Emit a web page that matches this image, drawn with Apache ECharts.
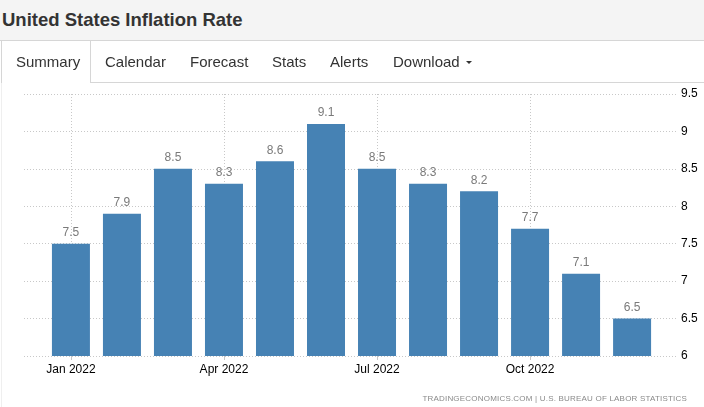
<!DOCTYPE html>
<html>
<head>
<meta charset="utf-8">
<script src="https://cdn.jsdelivr.net/npm/echarts@6/dist/echarts.min.js"></script>
<style>
  html, body { margin: 0; padding: 0; background: #fff; }
  body { width: 704px; height: 407px; position: relative; overflow: hidden; font-family: "Liberation Sans", Arial, sans-serif; }
  #chart { position: absolute; left: 0; top: 0; width: 704px; height: 407px; z-index: 0; }
  .abs { position: absolute; z-index: 2; }
  #header { left: 0; top: 0; width: 704px; height: 40px; background: #f4f4f4; border-bottom: 1px solid #d6d6d6; }
  #title { left: 2px; top: 9px; font-weight: bold; font-size: 18.5px; line-height: 22px; color: #333; white-space: nowrap; }
  .tab { top: 52px; font-size: 15px; line-height: 20px; color: #333; white-space: nowrap; }
  #tabline { left: 90px; top: 82px; width: 614px; height: 1px; background: #d6d6d6; }
  #tabright { left: 90px; top: 41px; width: 1px; height: 42px; background: #d6d6d6; }
  #tableft { left: 1px; top: 41px; width: 1px; height: 42px; background: #d6d6d6; }
  #pageleft { left: 1px; top: 83px; width: 1px; height: 324px; background: #efefef; }
  #caret { left: 466px; top: 61px; width: 0; height: 0; border-left: 3.5px solid transparent; border-right: 3.5px solid transparent; border-top: 3.5px solid #333; }
  #footer { right: 17px; top: 393px; font-size: 8px; letter-spacing: 0.2px; line-height: 12px; color: #8a8a8a; white-space: nowrap; }
</style>
</head>
<body>
<div id="chart"></div>
<div id="header" class="abs"></div>
<div id="title" class="abs">United States Inflation Rate</div>
<div id="tableft" class="abs"></div>
<div id="tabright" class="abs"></div>
<div id="tabline" class="abs"></div>
<div id="pageleft" class="abs"></div>
<div class="abs tab" style="left:16px">Summary</div>
<div class="abs tab" style="left:105px">Calendar</div>
<div class="abs tab" style="left:190px">Forecast</div>
<div class="abs tab" style="left:272px">Stats</div>
<div class="abs tab" style="left:330px">Alerts</div>
<div class="abs tab" style="left:393px">Download</div>
<div id="caret" class="abs"></div>
<div id="footer" class="abs">TRADINGECONOMICS.COM | U.S. BUREAU OF LABOR STATISTICS</div>
<script>
const categories = ['Jan 2022', 'Feb 2022', 'Mar 2022', 'Apr 2022', 'May 2022', 'Jun 2022',
                    'Jul 2022', 'Aug 2022', 'Sep 2022', 'Oct 2022', 'Nov 2022', 'Dec 2022'];
const inflation = [7.5, 7.9, 8.5, 8.3, 8.6, 9.1, 8.5, 8.3, 8.2, 7.7, 7.1, 6.5];
const labeledMonths = [0, 3, 6, 9];
const yMin = 6, yMax = 9.5, yStep = 0.5;

const chart = echarts.init(document.getElementById('chart'), null, { renderer: 'canvas' });
const dotted = { color: '#c8c8c8', width: 1, type: [1, 2] };
chart.setOption({
  animation: false,
  grid: { left: 24, right: 26, top: 94, bottom: 51, containLabel: false },
  xAxis: {
    type: 'value',
    min: -0.92,
    max: 11.9,
    axisLine: { show: false },
    axisTick: { show: true, customValues: labeledMonths, length: 4, lineStyle: { color: '#c8c8c8' } },
    axisLabel: {
      show: true,
      customValues: labeledMonths,
      formatter: v => categories[Math.round(v)],
      color: '#000',
      fontSize: 12,
      fontFamily: 'Liberation Sans, Arial, sans-serif',
      margin: 8
    },
    splitLine: { show: true, lineStyle: dotted }
  },
  yAxis: {
    type: 'value',
    position: 'right',
    min: yMin,
    max: yMax,
    interval: yStep,
    axisLine: { show: false },
    axisTick: { show: false },
    axisLabel: { color: '#000', fontSize: 12, fontFamily: 'Liberation Sans, Arial, sans-serif', margin: 3 },
    splitLine: { show: true, lineStyle: dotted }
  },
  series: [{
    type: 'bar',
    data: inflation.map((v, i) => [i, v]),
    barWidth: 38,
    itemStyle: { color: '#4682b4' },
    label: {
      show: true,
      position: 'top',
      distance: 5,
      color: '#7a7a7a',
      fontSize: 12,
      fontFamily: 'Liberation Sans, Arial, sans-serif',
      formatter: p => p.value[1].toString()
    }
  }]
});
</script>
</body>
</html>
